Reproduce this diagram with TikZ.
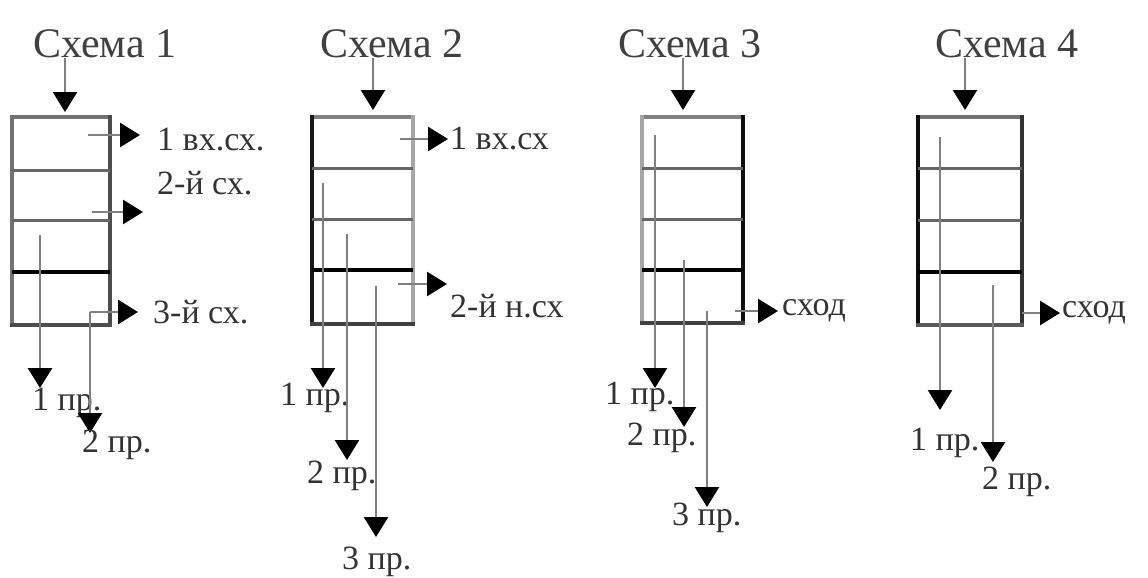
\documentclass[tikz,border=0pt]{standalone}
\usepackage{fontspec}
\setmainfont{Liberation Serif}
\usetikzlibrary{arrows.meta}
\begin{document}
\begin{tikzpicture}[x=1pt,y=-1pt,
  conn/.style={draw=black!50, line width=2.6pt, -{Triangle[width=24pt,length=20pt,color=black,fill=black]}},
  ttl/.style={anchor=west, inner sep=0pt, text=black!75, font=\fontsize{42}{42}\selectfont},
  lab/.style={anchor=west, inner sep=0pt, text=black!80, font=\fontsize{34}{34}\selectfont},
  edg/.style={line width=3.6pt, line cap=rect},
  thin/.style={line width=3pt, draw=black!60},
  heavy/.style={line width=3.2pt, draw=black}]
\path[use as bounding box] (0,0) rectangle (1148,578);

% ---------- Scheme 1 ----------
\node[ttl] (t1) at (33,44) {Схема 1};
\draw[edg, black!55] (12,117) -- (110,117);
\draw[edg, black!55] (12,117) -- (12,325);
\draw[edg, black!70] (110,117) -- (110,325);
\draw[edg, black!70] (12,325) -- (110,325);
\draw[thin] (12,170) -- (110,170);
\draw[thin] (12,220) -- (110,220);
\draw[heavy] (12,272) -- (110,272);
\coordinate (s1in) at (65,58);  \coordinate (s1top) at (65,112);
\draw[conn] (s1in) -- (s1top);
\coordinate (s1r1a) at (88,135);  \coordinate (s1r1b) at (140,135);
\draw[conn] (s1r1a) -- (s1r1b);
\node[lab] (l11) at (157,140) {1 вх.сх.};
\node[lab] (l12) at (157,183) {2-й сх.};
\coordinate (s1r2a) at (92,212);  \coordinate (s1r2b) at (143,212);
\draw[conn] (s1r2a) -- (s1r2b);
\coordinate (s1c) at (90,312);  \coordinate (s1r3b) at (138,312);
\draw[conn] (s1c) -- (s1r3b);
\node[lab] (l13) at (153,312) {3-й сх.};
\coordinate (s1v1a) at (40,235);  \coordinate (s1v1b) at (40,388);
\draw[conn] (s1v1a) -- (s1v1b);
\node[lab] (p11) at (32,403) {1 пр.};
\coordinate (s1v2b) at (90,433);
\draw[conn] (s1c) -- (s1v2b);
\node[lab] (p12) at (82,445) {2 пр.};

% ---------- Scheme 2 ----------
\node[ttl] (t2) at (320,44) {Схема 2};
\draw[edg, black!50] (312,117) -- (413,117);
\draw[edg, black!90] (312,117) -- (312,324);
\draw[edg, black!35] (413,117) -- (413,324);
\draw[edg, black!75] (312,324) -- (413,324);
\draw[thin] (312,168) -- (413,168);
\draw[thin] (312,219) -- (413,219);
\draw[heavy] (312,270) -- (413,270);
\coordinate (s2in) at (373,58);  \coordinate (s2top) at (373,110);
\draw[conn] (s2in) -- (s2top);
\coordinate (s2r1a) at (400,139);  \coordinate (s2r1b) at (448,139);
\draw[conn] (s2r1a) -- (s2r1b);
\node[lab] (l21) at (450,139) {1 вх.сх};
\coordinate (s2r2a) at (398,284);  \coordinate (s2r2b) at (447,284);
\draw[conn] (s2r2a) -- (s2r2b);
\node[lab] (l22) at (450,306) {2-й н.сх};
\coordinate (s2v1a) at (323,183);  \coordinate (s2v1b) at (323,388);
\draw[conn] (s2v1a) -- (s2v1b);
\node[lab] (p21) at (280,398) {1 пр.};
\coordinate (s2v2a) at (347,234);  \coordinate (s2v2b) at (347,460);
\draw[conn] (s2v2a) -- (s2v2b);
\node[lab] (p22) at (307,476) {2 пр.};
\coordinate (s2v3a) at (376,286);  \coordinate (s2v3b) at (376,537);
\draw[conn] (s2v3a) -- (s2v3b);
\node[lab] (p23) at (342,562) {3 пр.};

% ---------- Scheme 3 ----------
\node[ttl] (t3) at (618,44) {Схема 3};
\draw[edg, black!50] (642,117) -- (743,117);
\draw[edg, black!35] (642,117) -- (642,323);
\draw[edg, black!95] (743,117) -- (743,323);
\draw[edg, black!75] (642,323) -- (743,323);
\draw[thin] (642,168) -- (743,168);
\draw[thin] (642,219) -- (743,219);
\draw[heavy] (642,270) -- (743,270);
\coordinate (s3in) at (683,58);  \coordinate (s3top) at (683,110);
\draw[conn] (s3in) -- (s3top);
\coordinate (s3v1a) at (655,135);  \coordinate (s3v1b) at (655,388);
\draw[conn] (s3v1a) -- (s3v1b);
\node[lab] (p31) at (605,397) {1 пр.};
\coordinate (s3v2a) at (684,260);  \coordinate (s3v2b) at (684,427);
\draw[conn] (s3v2a) -- (s3v2b);
\node[lab] (p32) at (627,438) {2 пр.};
\coordinate (s3v3a) at (707,311);  \coordinate (s3v3b) at (707,507);
\draw[conn] (s3v3a) -- (s3v3b);
\node[lab] (p33) at (672,518) {3 пр.};
\coordinate (s3ra) at (735,311);  \coordinate (s3rb) at (778,311);
\draw[conn] (s3ra) -- (s3rb);
\node[lab] (o3) at (782,311) {сход};

% ---------- Scheme 4 ----------
\node[ttl] (t4) at (935,44) {Схема 4};
\draw[edg, black!55] (918,117) -- (1022,117);
\draw[edg, black!95] (918,117) -- (918,325);
\draw[edg, black!80] (1022,117) -- (1022,325);
\draw[edg, black!65] (918,325) -- (1022,325);
\draw[thin] (918,168) -- (1022,168);
\draw[thin] (918,220) -- (1022,220);
\draw[heavy] (918,272) -- (1022,272);
\coordinate (s4in) at (965,58);  \coordinate (s4top) at (965,110);
\draw[conn] (s4in) -- (s4top);
\coordinate (s4v1a) at (940,137);  \coordinate (s4v1b) at (940,410);
\draw[conn] (s4v1a) -- (s4v1b);
\node[lab] (p41) at (910,443) {1 пр.};
\coordinate (s4v2a) at (993,285);  \coordinate (s4v2b) at (993,462);
\draw[conn] (s4v2a) -- (s4v2b);
\node[lab] (p42) at (982,482) {2 пр.};
\coordinate (s4ra) at (1022,313);  \coordinate (s4rb) at (1060,313);
\draw[conn] (s4ra) -- (s4rb);
\node[lab] (o4) at (1062,313) {сход};
\end{tikzpicture}
\end{document}
